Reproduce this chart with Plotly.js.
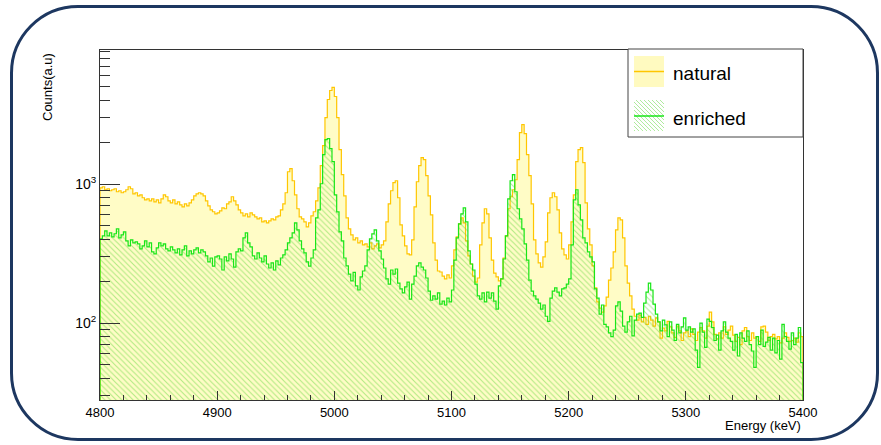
<!DOCTYPE html>
<html>
<head>
<meta charset="utf-8">
<script src="https://cdn.plot.ly/plotly-3.0.1.min.js"></script>
<style>
  html, body { margin: 0; padding: 0; background: #ffffff; }
  #wrap { position: relative; width: 881px; height: 445px; }
  #chart { position: absolute; left: 0; top: 0; width: 881px; height: 445px; }
  #frame {
    position: absolute; left: 10px; top: 5px; width: 869px; height: 436px;
    box-sizing: border-box; border: 3px solid #1d3760; border-radius: 68px;
    pointer-events: none;
  }
</style>
</head>
<body>
<div id="wrap"><div id="chart"></div><div id="frame"></div></div>
<script>
// Histogram binning (keV)
const binStart = 4800;
const binWidth = 2;

// Counts per 2 keV bin, 4800-5400 keV
const natural = [
  940, 956, 910, 925, 895, 910, 925, 880, 895, 866,
  880, 910, 956, 925, 851, 866, 823, 837, 797, 770,
  783, 757, 783, 745, 770, 733, 783, 837, 810, 757,
  733, 770, 721, 745, 709, 686, 721, 697, 733, 770,
  823, 851, 866, 851, 823, 757, 697, 653, 632, 611,
  621, 642, 675, 664, 721, 745, 810, 757, 709, 653,
  621, 591, 611, 581, 621, 601, 581, 562, 571, 535,
  544, 526, 544, 562, 553, 581, 591, 653, 721, 866,
  1226, 1290, 1056, 837, 664, 581, 562, 535, 492, 526,
  591, 632, 757, 940, 1356, 1888, 3006, 4053, 4706, 4947,
  4259, 3006, 1767, 1167, 823, 571, 476, 431, 397, 410,
  377, 390, 365, 371, 353, 377, 342, 359, 371, 347,
  365, 390, 535, 721, 895, 1022, 1056, 797, 509, 424,
  359, 315, 309, 397, 686, 1039, 1355, 1547, 1497, 1148,
  823, 601, 377, 284, 237, 233, 218, 208, 222, 211,
  258, 336, 417, 517, 571, 526, 390, 304, 266, 218,
  197, 211, 365, 526, 664, 611, 410, 284, 229, 215,
  201, 208, 294, 424, 664, 810, 910, 1074, 1497, 2343,
  2677, 2305, 1626, 1148, 721, 397, 315, 271, 253, 299,
  384, 621, 797, 866, 810, 653, 446, 342, 309, 289,
  365, 535, 837, 1448, 1767, 1827, 1424, 733, 476, 365,
  258, 179, 142, 128, 120, 133, 154, 204, 249, 325,
  468, 571, 553, 410, 258, 194, 157, 126, 112, 105,
  114, 102, 110, 98, 112, 105, 95, 109, 102, 78,
  92, 88, 103, 94, 85, 79, 95, 88, 75, 85,
  88, 80, 91, 83, 75, 86, 93, 88, 78, 95,
  120, 102, 83, 77, 85, 78, 94, 83, 89, 95,
  82, 74, 79, 70, 88, 93, 80, 75, 85, 78,
  80, 74, 94, 95, 86, 75, 80, 83, 77, 80,
  72, 78, 85, 79, 74, 75, 78, 73, 85, 80
];

const enriched = [
  404, 424, 460, 424, 446, 417, 439, 476, 410, 431,
  453, 390, 359, 397, 377, 384, 371, 342, 359, 390,
  353, 377, 325, 315, 347, 377, 359, 371, 342, 331,
  353, 336, 320, 342, 309, 336, 359, 304, 331, 315,
  336, 347, 320, 336, 325, 304, 276, 294, 257, 299,
  304, 289, 241, 299, 280, 315, 289, 253, 325, 342,
  331, 410, 446, 377, 353, 304, 289, 320, 294, 276,
  304, 266, 249, 271, 241, 280, 262, 294, 309, 336,
  377, 410, 446, 526, 468, 390, 342, 320, 276, 257,
  294, 336, 571, 653, 1005, 1626, 2086, 2121, 1797, 1448,
  837, 631, 453, 390, 294, 258, 225, 201, 232, 185,
  173, 215, 237, 258, 336, 403, 438, 468, 390, 331,
  289, 249, 208, 191, 241, 225, 245, 194, 176, 165,
  182, 197, 149, 191, 218, 258, 271, 253, 241, 211,
  170, 146, 157, 149, 165, 137, 144, 135, 151, 142,
  173, 284, 410, 517, 611, 675, 535, 331, 266, 241,
  191, 157, 149, 165, 142, 167, 151, 165, 144, 126,
  185, 208, 289, 424, 783, 1056, 1167, 880, 664, 562,
  476, 371, 284, 204, 170, 157, 149, 139, 126, 135,
  112, 103, 151, 170, 179, 167, 157, 176, 179, 191,
  208, 365, 770, 910, 709, 553, 410, 377, 325, 299,
  276, 176, 151, 116, 135, 98, 94, 85, 80, 89,
  133, 142, 122, 95, 86, 102, 112, 81, 105, 116,
  118, 110, 139, 167, 194, 173, 137, 116, 102, 88,
  105, 97, 80, 102, 89, 75, 98, 85, 94, 109,
  89, 94, 86, 91, 64, 48, 100, 86, 67, 107,
  103, 93, 75, 82, 64, 88, 102, 86, 78, 74,
  64, 83, 58, 85, 78, 74, 88, 70, 63, 48,
  80, 70, 89, 68, 73, 79, 64, 78, 61, 75,
  55, 98, 80, 74, 65, 85, 70, 78, 93, 52
];

// Axis labels
const xTickVals = [4800, 4900, 5000, 5100, 5200, 5300, 5400];
const yTickVals = [100, 1000];
const yTickText = ['10<sup>2</sup>', '10<sup>3</sup>'];
const yMinorVals = [30, 40, 50, 60, 70, 80, 90,
  200, 300, 400, 500, 600, 700, 800, 900,
  2000, 3000, 4000, 5000, 6000, 7000, 8000, 9000];
const seriesNames = ['natural', 'enriched'];

const FONT = 'Liberation Sans, Arial, Helvetica, sans-serif';
const HATCH = 'rgba(95,215,60,0.5)';

// Closed step outline of a histogram, dropped to a floor below the visible range
function stepOutline(counts) {
  const floor = 1;
  const xs = [binStart], ys = [floor];
  counts.forEach(function (c, i) {
    const lo = binStart + i * binWidth;
    xs.push(lo, lo + binWidth);
    ys.push(c, c);
  });
  xs.push(binStart + counts.length * binWidth);
  ys.push(floor);
  return { x: xs, y: ys };
}

const natOutline = stepOutline(natural);
const enrOutline = stepOutline(enriched);

const traces = [
  {
    type: 'scatter', mode: 'lines', name: seriesNames[0],
    x: natOutline.x, y: natOutline.y,
    fill: 'toself', fillcolor: '#fffcc6',
    line: { color: '#ffc600', width: 1.2 },
    hoverinfo: 'skip', showlegend: false
  },
  {
    type: 'scatter', mode: 'lines', name: seriesNames[1],
    x: enrOutline.x, y: enrOutline.y,
    fill: 'toself', fillcolor: 'rgba(0,0,0,0)',
    fillpattern: { shape: '\\', fgcolor: HATCH, bgcolor: 'rgba(0,0,0,0)', size: 4, solidity: 0.27 },
    line: { color: '#18e618', width: 1.2 },
    hoverinfo: 'skip', showlegend: false
  }
];

// Plot area geometry in pixels, used for the hand-built legend
const W = 881, H = 445, L = 100, R = 78, T = 50, B = 45;
const pw = W - L - R, ph = H - T - B;
function px(x) { return (x - L) / pw; }
function py(y) { return (H - B - y) / ph; }

// Hatched legend swatch ("\" lines)
function hatchPath(x0, y0, x1, y1, step) {
  const w = x1 - x0, h = y1 - y0;
  let d = '';
  for (let c = -h + 1; c < w; c += step) {
    const sx = c >= 0 ? x0 + c : x0;
    const sy = c >= 0 ? y0 : y0 - c;
    const len = Math.min(x1 - sx, y1 - sy);
    d += 'M' + px(sx).toFixed(5) + ',' + py(sy).toFixed(5) +
         'L' + px(sx + len).toFixed(5) + ',' + py(sy + len).toFixed(5);
  }
  return d;
}

const shapes = [
  { type: 'rect', xref: 'paper', yref: 'paper', layer: 'above',
    x0: px(628), x1: px(803), y0: py(137), y1: py(49),
    fillcolor: '#ffffff', line: { color: '#444444', width: 1 } },
  { type: 'rect', xref: 'paper', yref: 'paper', layer: 'above',
    x0: px(634), x1: px(664), y0: py(87), y1: py(56),
    fillcolor: '#fffac0', line: { width: 0 } },
  { type: 'line', xref: 'paper', yref: 'paper', layer: 'above',
    x0: px(634), x1: px(664), y0: py(71.5), y1: py(71.5),
    line: { color: '#ffc600', width: 1.5 } },
  { type: 'path', xref: 'paper', yref: 'paper', layer: 'above',
    path: hatchPath(634, 100, 664, 131, 4),
    line: { color: HATCH, width: 1 } },
  { type: 'line', xref: 'paper', yref: 'paper', layer: 'above',
    x0: px(634), x1: px(664), y0: py(116), y1: py(116),
    line: { color: '#18e618', width: 1.5 } }
];

const annotations = [
  { xref: 'paper', yref: 'paper', x: px(47), y: py(51), xanchor: 'center', yanchor: 'top',
    textangle: -90, showarrow: false, text: 'Counts(a.u)',
    font: { family: FONT, size: 13, color: '#000' } },
  { xref: 'paper', yref: 'paper', x: 1, y: py(425), xanchor: 'right', yanchor: 'middle',
    showarrow: false, text: 'Energy (keV)',
    font: { family: FONT, size: 13, color: '#000' } },
  { xref: 'paper', yref: 'paper', x: px(671), y: py(73), xanchor: 'left', yanchor: 'middle',
    showarrow: false, text: seriesNames[0],
    font: { family: FONT, size: 19, color: '#000' } },
  { xref: 'paper', yref: 'paper', x: px(671), y: py(118), xanchor: 'left', yanchor: 'middle',
    showarrow: false, text: seriesNames[1],
    font: { family: FONT, size: 19, color: '#000' } }
];

const layout = {
  width: W, height: H,
  margin: { l: L, r: R, t: T, b: B, pad: 0 },
  paper_bgcolor: '#ffffff', plot_bgcolor: '#ffffff',
  showlegend: false,
  xaxis: {
    range: [4800, 5400], tickmode: 'array', tickvals: xTickVals,
    ticks: 'inside', ticklen: 9, tickwidth: 1, tickcolor: '#333333',
    minor: { dtick: 20, tick0: 4800, ticks: 'inside', ticklen: 5, tickwidth: 1, tickcolor: '#333333', showgrid: false },
    showline: true, linecolor: '#333333', linewidth: 1, mirror: true,
    showgrid: false, zeroline: false,
    tickfont: { family: FONT, size: 13, color: '#000' }
  },
  yaxis: {
    type: 'log', range: [Math.log10(28), Math.log10(9200)],
    tickmode: 'array', tickvals: yTickVals, ticktext: yTickText,
    ticks: 'inside', ticklen: 20, tickwidth: 1, tickcolor: '#333333',
    minor: { tickmode: 'array', tickvals: yMinorVals, ticks: 'inside', ticklen: 10, tickwidth: 1, tickcolor: '#333333', showgrid: false },
    showline: true, linecolor: '#333333', linewidth: 1, mirror: true,
    showgrid: false, zeroline: false,
    tickfont: { family: FONT, size: 14, color: '#000' }
  },
  shapes: shapes,
  annotations: annotations
};

Plotly.newPlot('chart', traces, layout, { displayModeBar: false, staticPlot: true });
</script>
</body>
</html>
